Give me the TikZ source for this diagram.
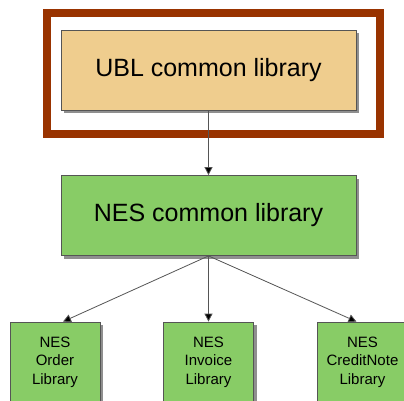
\documentclass[tikz,border=0pt]{standalone}
\usepackage{fontspec}
\setmainfont{Liberation Sans}
\usetikzlibrary{arrows.meta,shadows}
\definecolor{ubltan}{HTML}{EFCD8E}
\definecolor{nesgreen}{HTML}{88CC66}
\definecolor{framered}{HTML}{993300}
\definecolor{edgegray}{HTML}{555555}
\tikzset{
  boxbase/.style={draw=edgegray, line width=0.8pt, rectangle, inner sep=0pt,
    drop shadow={shadow xshift=3pt, shadow yshift=-3pt, opacity=0.55, fill=black!80}},
  bigbox/.style={boxbase, minimum width=295pt, minimum height=80pt, font=\fontsize{25}{30}\selectfont},
  smallbox/.style={boxbase, fill=nesgreen, minimum width=90pt, minimum height=80pt, align=center,
    font=\fontsize{15}{18.5}\selectfont},
  conn/.style={draw=edgegray, line width=0.8pt, -{Triangle[length=8pt,width=8pt,fill=black]}}
}
\begin{document}
\begin{tikzpicture}[x=1pt,y=-1pt]
\useasboundingbox (0,0) rectangle (404,400);
\clip (0,0) rectangle (404,400);
\fill[white] (0,0) rectangle (404,400);
\draw[framered, line width=8pt] (47,13) rectangle (380,133.5);
\node[bigbox, fill=ubltan] (ubl) at (208.5,70) {UBL common library};
\node[bigbox, fill=nesgreen] (nes) at (208.5,215.5) {NES common library};
\node[smallbox] (ord) at (55,362) {NES\\Order\\Library};
\node[smallbox] (inv) at (208.5,362) {NES\\Invoice\\Library};
\node[smallbox] (cre) at (362.5,362) {NES\\CreditNote\\Library};
\draw[conn] (ubl.south) -- (nes.north);
\draw[conn] (nes.south) -- ([xshift=8pt]ord.north);
\draw[conn] (nes.south) -- (inv.north);
\draw[conn] (nes.south) -- ([xshift=-6pt]cre.north);
\end{tikzpicture}
\end{document}
